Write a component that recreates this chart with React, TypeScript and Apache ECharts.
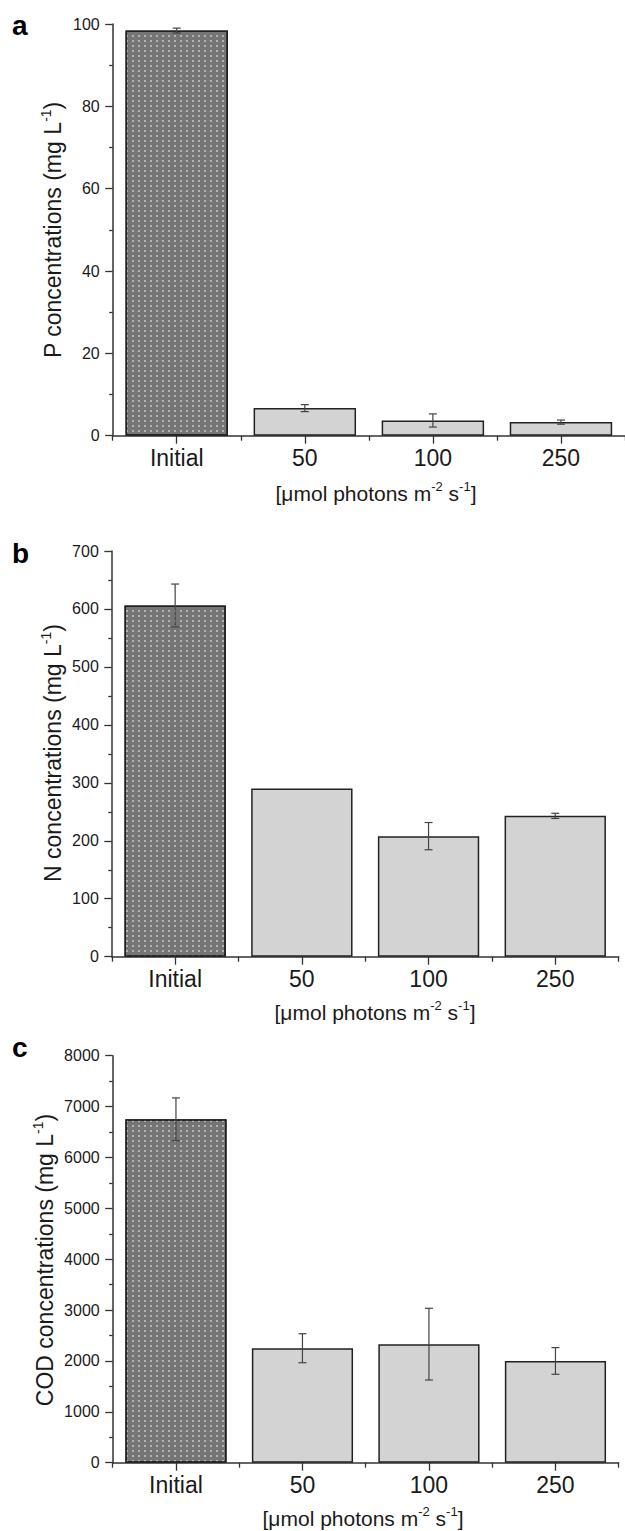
import React, { useEffect, useRef } from "react";
import * as echarts from "echarts";

const categories = ["Initial", "50", "100", "250"];

const pValues = [98.4, 6.7, 3.7, 3.3];
const pErrors = [0.6, 0.85, 1.6, 0.5];
const pTicks = { max: 100, interval: 20 };

const nValues = [606, 290, 208, 243];
const nErrors = [37, 0, 23.5, 4.5];
const nTicks = { max: 700, interval: 100 };

const codValues = [6750, 2250, 2330, 2000];
const codErrors = [420, 285, 705, 262];
const codTicks = { max: 8000, interval: 1000 };

const panelLetters = ["a", "b", "c"];
const yTitles = ["P concentrations (mg L{sup|-1})", "N concentrations (mg L{sup|-1})", "COD concentrations (mg L{sup|-1})"];
const xTitle = "[μmol photons m{sup|-2} s{sup|-1}]";

const FONT = "Liberation Sans, Arial, Helvetica, sans-serif";

export default function App() {
  const ref = useRef<HTMLDivElement>(null);
  useEffect(() => {
    if (!ref.current) return;
    const chart = echarts.init(ref.current, null, { renderer: "svg" });

    const panels = [
      { values: pValues, errors: pErrors, ticks: pTicks, grid: { left: 112.7, top: 24, width: 512.5, height: 411.7 } },
      { values: nValues, errors: nErrors, ticks: nTicks, grid: { left: 111.8, top: 551, width: 506.8, height: 405.7 } },
      { values: codValues, errors: codErrors, ticks: codTicks, grid: { left: 112.7, top: 1055.7, width: 506, height: 407 } },
    ];

    const grids: any[] = [];
    const xAxes: any[] = [];
    const yAxes: any[] = [];
    const series: any[] = [];

    panels.forEach((p, i) => {
      grids.push({ ...p.grid, containLabel: false });
      xAxes.push({
        type: "category",
        gridIndex: i,
        data: categories,
        position: "bottom",
        axisLine: { show: true, lineStyle: { color: "#333", width: 1.5 } },
        axisTick: { show: true, alignWithLabel: true, length: 8, lineStyle: { color: "#333", width: 1.3 } },
        axisLabel: { show: true, fontSize: 23, color: "#1a1a1a", fontFamily: FONT, margin: 11 },
        splitLine: { show: false },
      });
      xAxes.push({
        type: "category",
        gridIndex: i,
        data: categories,
        position: "bottom",
        offset: 0,
        axisLine: { show: false },
        axisTick: { show: true, alignWithLabel: false, length: 5, lineStyle: { color: "#333", width: 1.3 } },
        axisLabel: { show: false },
        splitLine: { show: false },
      });
      yAxes.push({
        type: "value",
        gridIndex: i,
        min: 0,
        max: p.ticks.max,
        interval: p.ticks.interval,
        axisLine: { show: true, lineStyle: { color: "#333", width: 1.5 } },
        axisTick: { show: true, length: 7.5, lineStyle: { color: "#333", width: 1.3 } },
        minorTick: { show: true, splitNumber: 2, length: 3.5, lineStyle: { color: "#333", width: 1.3 } },
        axisLabel: {
          fontSize: 16,
          color: "#1a1a1a",
          fontFamily: FONT,
          margin: 13,
          formatter: (v: number) => String(v),
        },
        splitLine: { show: false },
        minorSplitLine: { show: false },
      });
      series.push({
        type: "bar",
        xAxisIndex: i * 2,
        yAxisIndex: i,
        barCategoryGap: "20%",
        data: p.values.map((v, k) =>
          k === 0
            ? {
                value: v,
                itemStyle: {
                  color: "#757575",
                  borderColor: "#222",
                  borderWidth: 1.5,
                  decal: {
                    symbol: "rect",
                    symbolSize: 1,
                    color: "rgba(255,255,255,0.45)",
                    dashArrayX: [1.5, 3.5],
                    dashArrayY: [1.5, 3],
                    rotation: 0,
                  },
                },
              }
            : {
                value: v,
                itemStyle: { color: "#d3d3d3", borderColor: "#222", borderWidth: 1.5 },
              }
        ),
      });
      series.push({
        type: "custom",
        xAxisIndex: i * 2,
        yAxisIndex: i,
        data: p.values.map((v, k) => [k, v, p.errors[k]]),
        z: 10,
        renderItem: (params: any, api: any) => {
          const x = api.value(0);
          const y = api.value(1);
          const e = api.value(2);
          if (!e) return { type: "group", children: [] };
          const top = api.coord([x, y + e]);
          const bot = api.coord([x, y - e]);
          const hw = 4;
          const st = { stroke: "#444", lineWidth: 1.2 };
          return {
            type: "group",
            children: [
              { type: "line", shape: { x1: top[0], y1: top[1], x2: bot[0], y2: bot[1] }, style: st },
              { type: "line", shape: { x1: top[0] - hw, y1: top[1], x2: top[0] + hw, y2: top[1] }, style: st },
              { type: "line", shape: { x1: bot[0] - hw, y1: bot[1], x2: bot[0] + hw, y2: bot[1] }, style: st },
            ],
          };
        },
      });
    });

    const supStyle = { fontSize: 13, verticalAlign: "top", fontFamily: FONT, fill: "#1a1a1a", lineHeight: 22 };

    const yTitlePos = [
      [53, 230],
      [53, 753],
      [45, 1260],
    ];
    const xTitlePos = [
      [376, 493],
      [375, 1012],
      [363, 1518],
    ];
    const letterPos = [
      [12, 25.3],
      [12, 553.6],
      [12, 1047.6],
    ];

    const graphics: any[] = [];
    panelLetters.forEach((l, i) => {
      graphics.push({
        type: "text",
        x: letterPos[i][0],
        y: letterPos[i][1],
        style: {
          text: l,
          font: `bold 28px ${FONT}`,
          fill: "#000",
          textAlign: "left",
          textVerticalAlign: "middle",
        },
      });
      graphics.push({
        type: "text",
        x: yTitlePos[i][0],
        y: yTitlePos[i][1],
        rotation: Math.PI / 2,
        style: {
          text: yTitles[i],
          fontSize: 23,
          fontFamily: FONT,
          fill: "#1a1a1a",
          textAlign: "center",
          textVerticalAlign: "middle",
          lineHeight: 28,
          rich: { sup: { ...supStyle, fontSize: 14 } },
        },
      });
      graphics.push({
        type: "text",
        x: xTitlePos[i][0],
        y: xTitlePos[i][1],
        style: {
          text: xTitle,
          fontSize: 21,
          fontFamily: FONT,
          fill: "#1a1a1a",
          textAlign: "center",
          textVerticalAlign: "middle",
          lineHeight: 26,
          rich: { sup: { ...supStyle } },
        },
      });
    });

    chart.setOption({
      animation: false,
      backgroundColor: "#ffffff",
      grid: grids,
      xAxis: xAxes,
      yAxis: yAxes,
      series,
      graphic: graphics,
    });

    return () => chart.dispose();
  }, []);

  return (
    <div
      ref={ref}
      style={{ position: "absolute", left: 0, top: 0, width: 625, height: 1531, background: "#fff" }}
    />
  );
}
